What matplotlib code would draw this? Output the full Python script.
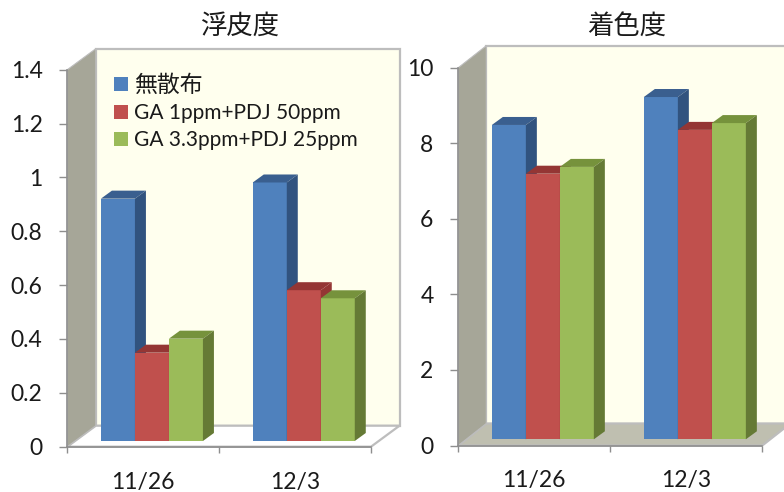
import matplotlib
matplotlib.use("Agg")
import matplotlib.pyplot as plt
from matplotlib.patches import Polygon

plt.rcParams["font.family"] = ["Lato", "Noto Sans CJK JP", "DejaVu Sans"]

W, H = 784, 492

# Data
dates = ["11/26", "12/3"]
series_names = ["無散布", "GA 1ppm+PDJ 50ppm", "GA 3.3ppm+PDJ 25ppm"]
rind_puffing = [[0.90, 0.96], [0.328, 0.56], [0.38, 0.53]]
coloration = [[8.32, 9.06], [7.03, 8.19], [7.21, 8.37]]
rind_ticks = [0, 0.2, 0.4, 0.6, 0.8, 1, 1.2, 1.4]
color_ticks = [0, 2, 4, 6, 8, 10]

# Front, top and side shades of each series
front = ["#4F81BD", "#C0504D", "#9BBB59"]
top = ["#3A5F8F", "#943634", "#76923C"]
side = ["#31537F", "#943634", "#657A35"]

WALL = "#A6A698"
BACK = "#FFFFEE"
EDGE = "#BDBDBD"
AXIS = "#8E8E8E"
TEXT = "#1A1A1A"


def axes_from_px(left, right, y_zero, y_top):
    return [left / W, 1 - y_zero / H, (right - left) / W, (y_zero - y_top) / H]


def panel(left, right, y_zero, y_top, ymax, ticks, values, title, title_x, floor,
          wall_dx, wall_dy, bar_dx, bar_base, labelled_legend=False):
    ax = fig.add_axes(axes_from_px(left, right, y_zero, y_top))
    ax.set_xlim(0, 2)
    ax.set_ylim(0, ymax)
    ax.patch.set_visible(False)

    px_x = 2 / (right - left)
    px_y = ymax / (y_zero - y_top)
    wx, wy = wall_dx * px_x, wall_dy * px_y

    # Back wall, floor and side wall of the box
    ax.add_patch(Polygon([(wx, wy), (2 + wx, wy), (2 + wx, ymax + wy), (wx, ymax + wy)],
                         closed=True, fc=BACK, ec=EDGE, lw=1.6, clip_on=False, zorder=1))
    ax.add_patch(Polygon([(0, 0), (2, 0), (2 + wx, wy), (wx, wy)],
                         closed=True, fc=floor, ec=EDGE, lw=1.6, clip_on=False, zorder=1.2))
    ax.add_patch(Polygon([(0, 0), (wx, wy), (wx, ymax + wy), (0, ymax)],
                         closed=True, fc=WALL, ec=EDGE, lw=0.8, clip_on=False, zorder=1.4))

    for s in ["top", "right"]:
        ax.spines[s].set_visible(False)
    for s in ["left", "bottom"]:
        ax.spines[s].set_color(AXIS)
        ax.spines[s].set_linewidth(1.2)
        ax.spines[s].set_zorder(1.6)

    ax.set_yticks(ticks)
    ax.set_yticklabels([str(t) for t in ticks])
    ax.set_xticks([0, 1, 2])
    ax.set_xticklabels([])
    ax.set_xticks([0.5, 1.5], labels=dates, minor=True)
    ax.tick_params(axis="y", length=5.8, width=1, color=AXIS, labelsize=16.5,
                   labelcolor=TEXT, pad=12)
    ax.tick_params(axis="x", which="major", length=4.5, width=1, color=AXIS)
    ax.tick_params(axis="x", which="minor", length=0, labelsize=16.5, labelcolor=TEXT, pad=18)
    ax.set_title(title, fontsize=19, color=TEXT, x=(title_x - left) / (right - left),
                 y=(y_zero - 34) / (y_zero - y_top), va="baseline", pad=0)

    # Bars stand in a plane set back from the axis plane
    bx = fig.add_axes(axes_from_px(left + bar_dx, right + bar_dx, bar_base,
                                   bar_base - (y_zero - y_top)))
    bx.set_xlim(0, 2)
    bx.set_ylim(0, ymax)
    bx.axis("off")

    width = 34 * px_x
    dx, dy = 11 * px_x, 8 * px_y
    handles = []
    for i, vals in enumerate(values):
        positions = [c + 0.5 + (i - 1) * width for c in range(len(vals))]
        bars = bx.bar(positions, vals, width=width, color=front[i], zorder=3 + i,
                      label=series_names[i], linewidth=0)
        handles.append(bars)
        for p, v in zip(positions, vals):
            x0, x1 = p - width / 2, p + width / 2
            bx.add_patch(Polygon([(x0, v), (x0 + dx, v + dy), (x1 + dx, v + dy), (x1, v)],
                                 closed=True, fc=top[i], ec="none", clip_on=False, zorder=3 + i))
            bx.add_patch(Polygon([(x1, 0), (x1 + dx, dy), (x1 + dx, v + dy), (x1, v)],
                                 closed=True, fc=side[i], ec="none", clip_on=False, zorder=3 + i))

    if labelled_legend:
        legend = bx.legend(handles=handles, loc="upper left", frameon=False, fontsize=15,
                           bbox_to_anchor=(114 / W, 1 - 74 / H), bbox_transform=fig.transFigure,
                           handlelength=0.68, handleheight=0.68, handletextpad=0.3,
                           labelspacing=0.36, borderaxespad=0, borderpad=0, labelcolor=TEXT)
        legend.get_texts()[0].set_fontsize(16.5)


fig = plt.figure(figsize=(W / 100, H / 100), dpi=100, facecolor="white")

panel(67.3, 371, 446.7, 69.7, 1.4, rind_ticks, rind_puffing, "浮皮度", 240, "#FFFFFF",
      28.5, 21, 8.7, 441, labelled_legend=True)
panel(458.3, 762.3, 445.5, 67.7, 10, color_ticks, coloration, "着色度", 627, "#BFBFB0",
      28, 22, 8.55, 439.3)

fig.savefig("out.png", dpi=100)
